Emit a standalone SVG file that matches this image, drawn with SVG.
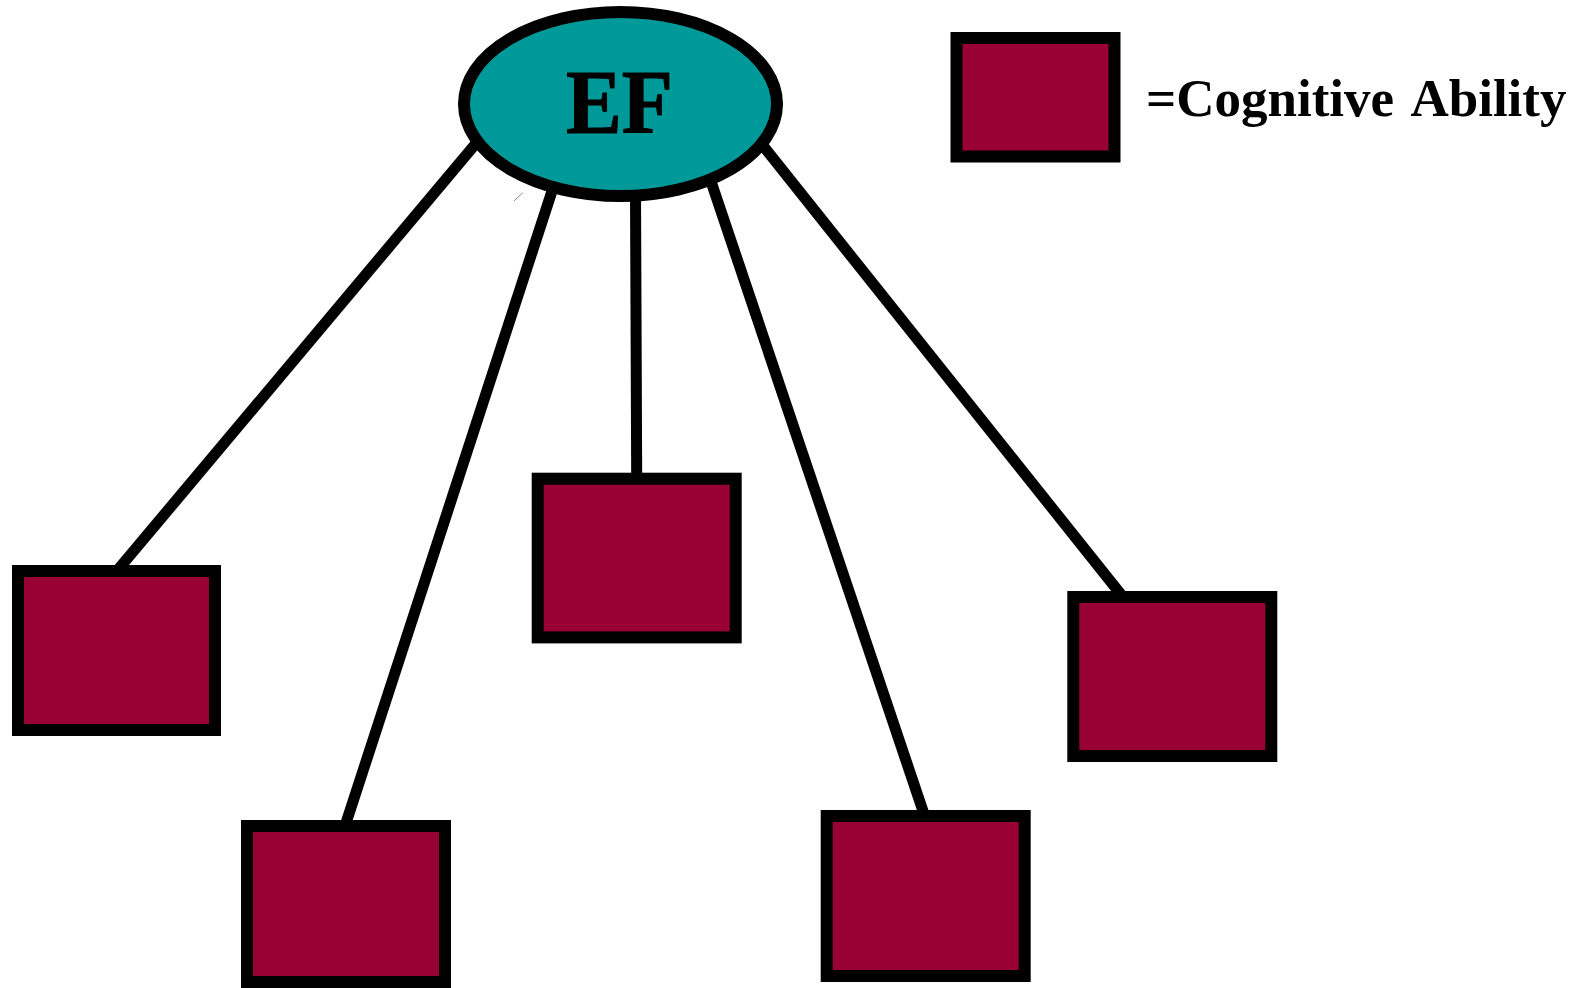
<svg xmlns="http://www.w3.org/2000/svg" width="1583" height="988" viewBox="0 0 1583 988">
  <style>
    .link { stroke: #000000; stroke-width: 11; fill: none; }
    .ability { fill: #990033; stroke: #000000; stroke-width: 12; }
    .ef { fill: #009999; stroke: #000000; stroke-width: 12; }
    .label { font-family: "Liberation Serif", "Times New Roman", serif; font-weight: bold; fill: #000000; }
  </style>
  <rect width="1583" height="988" fill="#ffffff"/>

  <!-- links from EF to each ability -->
  <g id="connectors">
    <line class="link" x1="478" y1="141" x2="116" y2="572"/>
    <line class="link" x1="554" y1="185" x2="345" y2="826"/>
    <line class="link" x1="635.5" y1="190" x2="636.7" y2="478"/>
    <line class="link" x1="709.5" y1="177" x2="925" y2="817"/>
    <line class="link" x1="760" y1="142" x2="1123" y2="597"/>
    <line x1="514" y1="201" x2="522.7" y2="192.7" stroke="#888888" stroke-width="1"/>
  </g>

  <g id="ef">
    <ellipse class="ef" cx="620.5" cy="104" rx="156.5" ry="92"/>
    <text class="label" x="566" y="133" font-size="90" stroke="#000000" stroke-width="1" textLength="107" lengthAdjust="spacingAndGlyphs">EF</text>
  </g>

  <g id="ability-1"><rect class="ability" x="18" y="571" width="197" height="159"/></g>
  <g id="ability-2"><rect class="ability" x="247" y="826" width="198" height="156"/></g>
  <g id="ability-3"><rect class="ability" x="537.7" y="478.7" width="198" height="158.7"/></g>
  <g id="ability-4"><rect class="ability" x="826.7" y="816" width="198" height="160"/></g>
  <g id="ability-5"><rect class="ability" x="1073.3" y="597" width="198" height="159"/></g>

  <g id="legend">
    <rect class="ability" x="956.5" y="38" width="158" height="118.5"/>
    <text class="label" x="1146" y="116" font-size="53" word-spacing="6">=Cognitive Ability</text>
  </g>
</svg>
